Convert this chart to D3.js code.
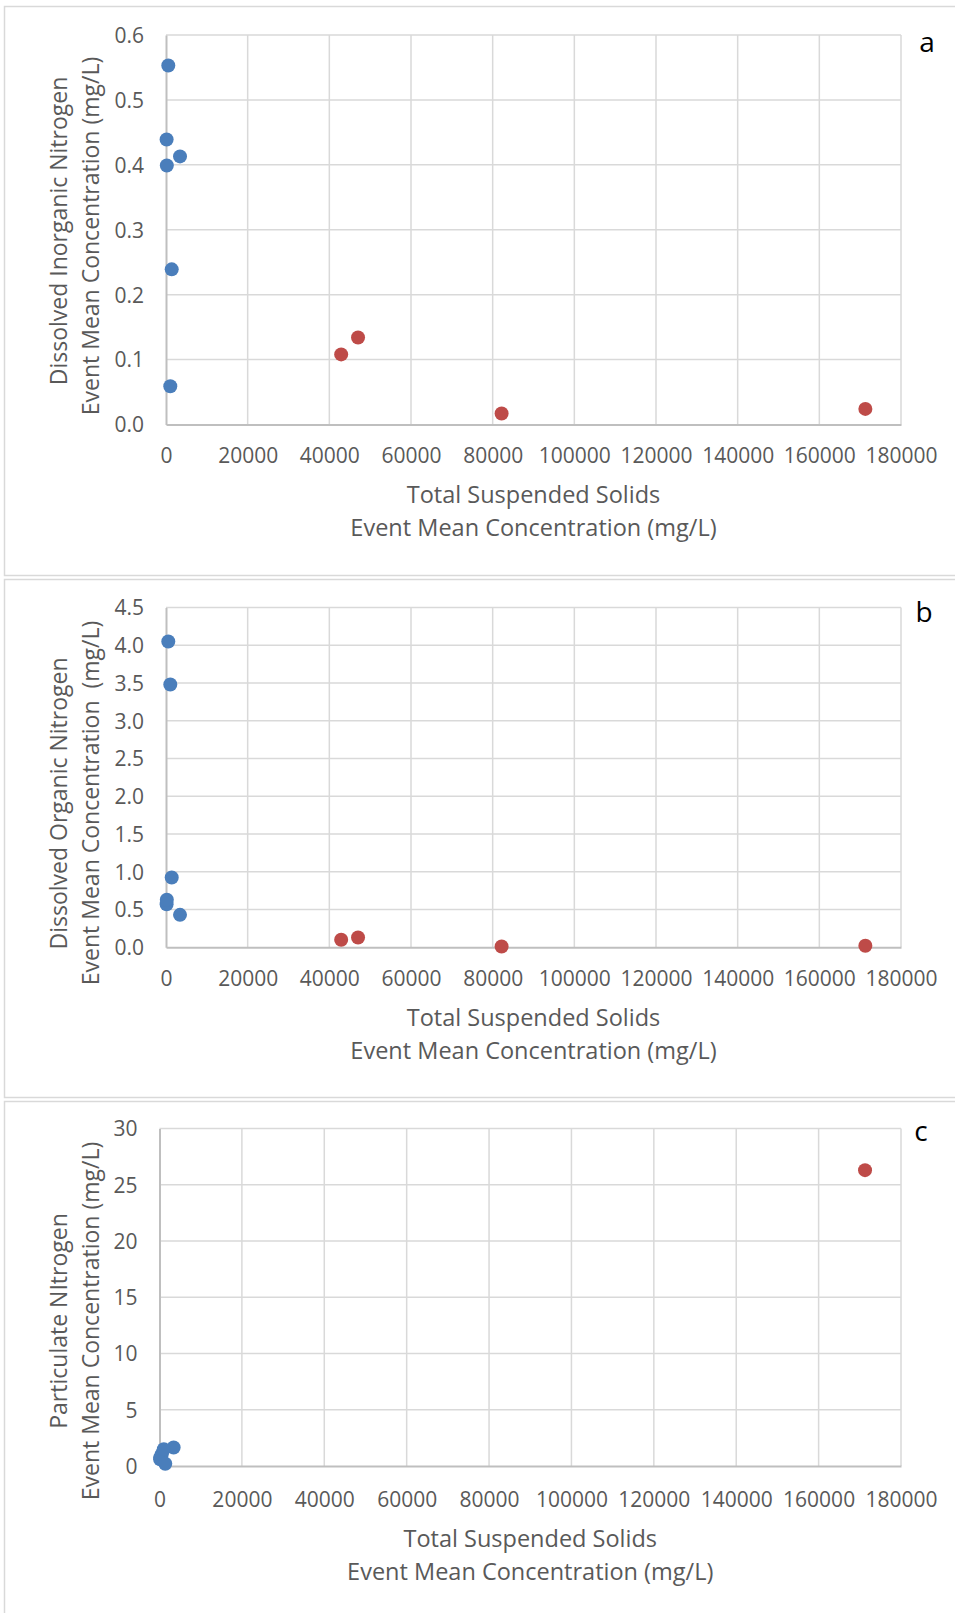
<!DOCTYPE html>
<html><head><meta charset="utf-8">
<script src="https://cdn.jsdelivr.net/npm/d3@7"></script>
<style>
html,body{margin:0;padding:0;background:#fff;}
svg{display:block;}
text{font-family:"Open Sans",sans-serif;fill:#595959;}
</style></head><body>
<svg id="chart" width="955" height="1613"></svg>
<script>
// ---- data ----
const xTicks = [0,20000,40000,60000,80000,100000,120000,140000,160000,180000];
const blueTSS = [560, 150, 3430, 200, 1400, 1050];
const redTSS  = [42900, 47030, 82190, 171270];
const blueDIN = [0.553, 0.439, 0.413, 0.399, 0.239, 0.059];
const redDIN  = [0.108, 0.134, 0.017, 0.024];
const blueDON = [4.05, 0.57, 0.43, 0.63, 0.925, 3.48];
const redDON  = [0.10, 0.13, 0.01, 0.02];
const bluePN  = [1.05, 0.6, 1.65, 0.75, 0.2, 1.5];
const redPN   = [null, null, null, 26.3];
const yTicksA = [0,0.1,0.2,0.3,0.4,0.5,0.6];
const yTicksB = [0,0.5,1,1.5,2,2.5,3,3.5,4,4.5];
const yTicksC = [0,5,10,15,20,25,30];
const panelLetters = ["a","b","c"];
const yTitles1 = ["Dissolved Inorganic Nitrogen","Dissolved Organic Nitrogen","Particulate NItrogen"];
const yTitles2 = ["Event Mean Concentration (mg/L)","Event Mean Concentration\u00a0 (mg/L)","Event Mean Concentration (mg/L)"];
const xTitle1 = "Total Suspended Solids";
const xTitle2 = "Event Mean Concentration (mg/L)";

const svg = d3.select("#chart");
const BLUE = "#4a7ebb", RED = "#be4b48";

// panel frames
const frames = [{y:6,h:569},{y:579,h:518},{y:1101,h:600}];
svg.append("rect").attr("x",0).attr("y",0).attr("width",955).attr("height",1613).attr("fill","#fff");
frames.forEach(f=>{
  svg.append("rect").attr("x",4.5).attr("y",f.y+0.5).attr("width",1100).attr("height",f.h)
    .attr("fill","#fff").attr("stroke","#d9d9d9").attr("stroke-width",1.5);
});

const panels = [
  {left:166,right:901,top:35,bottom:424.5, yMax:0.6, yTicks:yTicksA, fmt:d3.format(".1f"),
   blue:blueDIN, red:redDIN, xlab:456, xt1:495, xt2:528, yc1:231, yc2:236, letter:{x:927,y:42}},
  {left:166,right:901,top:607.5,bottom:947.3, yMax:4.5, yTicks:yTicksB, fmt:d3.format(".1f"),
   blue:blueDON, red:redDON, xlab:979, xt1:1018, xt2:1051, yc1:803.5, yc2:803, letter:{x:924,y:612}},
  {left:159.5,right:901,top:1128.5,bottom:1466, yMax:30, yTicks:yTicksC, fmt:d3.format("d"),
   blue:bluePN, red:redPN, xlab:1499.5, xt1:1538.5, xt2:1571.5, yc1:1321, yc2:1321, letter:{x:921,y:1131}}
];

panels.forEach((p,i)=>{
  const x = d3.scaleLinear().domain([0,180000]).range([p.left,p.right]);
  const y = d3.scaleLinear().domain([0,p.yMax]).range([p.bottom,p.top]);
  const g = svg.append("g");
  // gridlines
  g.append("g").selectAll("line").data(xTicks.slice(1)).join("line")
    .attr("x1",d=>x(d)).attr("x2",d=>x(d)).attr("y1",p.top).attr("y2",p.bottom)
    .attr("stroke","#d9d9d9").attr("stroke-width",1.5);
  g.append("g").selectAll("line").data(p.yTicks.slice(1)).join("line")
    .attr("x1",p.left).attr("x2",p.right).attr("y1",d=>y(d)).attr("y2",d=>y(d))
    .attr("stroke","#d9d9d9").attr("stroke-width",1.5);
  // axes
  const xa = g.append("g").attr("transform",`translate(0,${p.bottom})`)
    .call(d3.axisBottom(x).tickValues(xTicks).tickSize(0).tickPadding(0).tickFormat(d3.format("d")));
  xa.select(".domain").attr("stroke","#bfbfbf").attr("stroke-width",2);
  xa.selectAll("text").attr("y",p.xlab-p.bottom).attr("dy","0.35em")
    .style("font-size","21px").style("font-family","'Open Sans',sans-serif").attr("fill","#595959");
  const ya = g.append("g").attr("transform",`translate(${p.left},0)`)
    .call(d3.axisLeft(y).tickValues(p.yTicks).tickSize(0).tickPadding(22).tickFormat(p.fmt));
  ya.select(".domain").attr("stroke","#bfbfbf").attr("stroke-width",2);
  ya.selectAll("text").attr("dy","0.35em")
    .style("font-size","21px").style("font-family","'Open Sans',sans-serif").attr("fill","#595959");
  // points
  const blueData = blueTSS.map((t,k)=>({x:t,y:p.blue[k]})).filter(d=>d.y!=null);
  const redData = redTSS.map((t,k)=>({x:t,y:p.red[k]})).filter(d=>d.y!=null);
  g.append("g").selectAll("circle").data(blueData).join("circle")
    .attr("cx",d=>x(d.x)).attr("cy",d=>y(d.y)).attr("r",7).attr("fill",BLUE);
  g.append("g").selectAll("circle").data(redData).join("circle")
    .attr("cx",d=>x(d.x)).attr("cy",d=>y(d.y)).attr("r",7).attr("fill",RED);
  // titles
  const cx = (p.left+p.right)/2;
  g.append("text").attr("x",cx).attr("y",p.xt1).attr("dy","0.35em").attr("text-anchor","middle")
    .style("font-size","23.5px").text(xTitle1);
  g.append("text").attr("x",cx).attr("y",p.xt2).attr("dy","0.35em").attr("text-anchor","middle")
    .style("font-size","23.5px").text(xTitle2);
  g.append("text").attr("transform",`translate(59,${p.yc1}) rotate(-90)`).attr("dy","0.35em")
    .attr("text-anchor","middle").style("font-size","23px").text(yTitles1[i]);
  g.append("text").attr("transform",`translate(91,${p.yc2}) rotate(-90)`).attr("dy","0.35em")
    .attr("text-anchor","middle").style("font-size","23px").style("white-space","pre").text(yTitles2[i]);
  g.append("text").attr("x",p.letter.x).attr("y",p.letter.y).attr("dy","0.35em")
    .attr("text-anchor","middle").style("font-size","28px").style("fill","#000").text(panelLetters[i]);
});
</script>
</body></html>
